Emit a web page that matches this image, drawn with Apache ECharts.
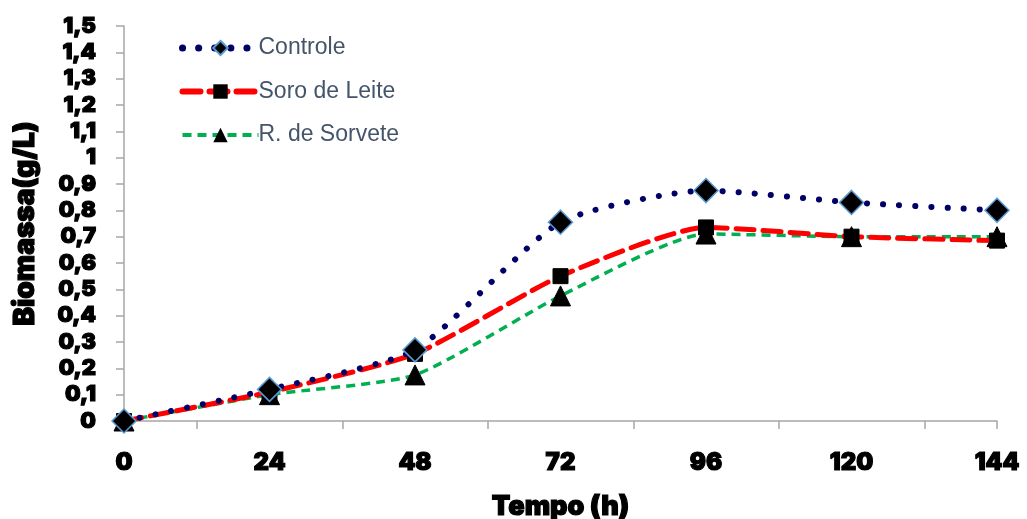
<!DOCTYPE html>
<html><head><meta charset="utf-8">
<script src="https://cdn.jsdelivr.net/npm/echarts@6/dist/echarts.min.js"></script>
<style>html,body{margin:0;padding:0;background:#fff}#c{width:1027px;height:519px}</style>
</head><body><div id="c"></div>
<script>
const hours = [0, 24, 48, 72, 96, 120, 144];
const controle = [0, 0.12, 0.27, 0.755, 0.875, 0.83, 0.80];
const soroLeite = [0, 0.11, 0.255, 0.55, 0.735, 0.70, 0.685];
const rSorvete = [0, 0.10, 0.175, 0.475, 0.71, 0.70, 0.70];
const xTicks = [12, 36, 60, 84, 108, 132, 144];
const xLabels = [0, 24, 48, 72, 96, 120, 144];

const pairs = arr => hours.map((h, i) => [h, arr[i]]);
const heavy = {fontFamily: 'Inter, "Liberation Sans", Arial, sans-serif', fontWeight: 900, color: '#000',
  textBorderColor: '#000', textBorderWidth: 1.2};

const chart = echarts.init(document.getElementById('c'), null, {renderer: 'canvas'});
chart.setOption({
  animation: false,
  backgroundColor: '#fff',
  grid: {left: 124, right: 30, top: 26, bottom: 98, containLabel: false, outerBoundsMode: 'none'},
  legend: {
    orient: 'vertical', left: 174, top: 31, itemGap: 19.5,
    itemWidth: 76, itemHeight: 18,
    textStyle: {fontSize: 23, lineHeight: 24, color: '#44546A', fontFamily: '"Liberation Sans", Arial, sans-serif', padding: [0, 0, 0, -5]},
    data: [
      {name: 'Controle', lineStyle: {width: 7, type: [0.1, 16], cap: 'round'}},
      {name: 'Soro de Leite', lineStyle: {width: 6, type: [18, 9], cap: 'round'}},
      {name: 'R. de Sorvete', lineStyle: {width: 4, type: [9, 6]}}
    ]
  },
  xAxis: {
    type: 'value', min: 0, max: 144, interval: 12,
    name: 'Tempo (h)', nameLocation: 'middle', nameGap: 72,
    nameTextStyle: Object.assign({fontSize: 27}, heavy),
    axisLine: {show: true, onZero: false, lineStyle: {color: '#A6A6A6', width: 1.5}},
    axisTick: {show: true, length: 8, customValues: xTicks, lineStyle: {color: '#A6A6A6', width: 1.5}},
    axisLabel: Object.assign({fontSize: 24, margin: 30, customValues: xLabels}, heavy),
    splitLine: {show: false}
  },
  yAxis: {
    type: 'value', min: 0, max: 1.5, interval: 0.1,
    name: 'Biomassa(g/L)', nameLocation: 'middle', nameGap: 84, nameRotate: 90,
    nameTextStyle: Object.assign({fontSize: 28}, heavy),
    axisLine: {show: true, lineStyle: {color: '#A6A6A6', width: 1.5}},
    axisTick: {show: true, length: 8, lineStyle: {color: '#A6A6A6', width: 1.5}},
    axisLabel: Object.assign({fontSize: 22, margin: 28,
      formatter: v => String(+v.toFixed(1)).replace('.', ',')}, heavy),
    splitLine: {show: false}
  },
  series: [
    {
      name: 'R. de Sorvete', type: 'line', smooth: 0.2, data: pairs(rSorvete), z: 3,
      symbol: 'triangle', symbolSize: 20,
      itemStyle: {color: '#000', borderColor: '#000'},
      lineStyle: {color: '#00B050', width: 3.5, type: [9, 6], cap: 'butt'}
    },
    {
      name: 'Soro de Leite', type: 'line', smooth: 0.2, data: pairs(soroLeite), z: 4,
      symbol: 'rect', symbolSize: 15,
      itemStyle: {color: '#000', borderColor: '#000'},
      lineStyle: {color: '#FF0000', width: 5, type: [18, 9], cap: 'round'}
    },
    {
      name: 'Controle', type: 'line', smooth: 0.2, data: pairs(controle), z: 5,
      symbol: 'diamond', symbolSize: 24,
      itemStyle: {color: '#000', borderColor: '#5B9BD5', borderWidth: 1.5},
      lineStyle: {color: '#000066', width: 6, type: [0.1, 16], cap: 'round'}
    }
  ]
});
</script></body></html>
